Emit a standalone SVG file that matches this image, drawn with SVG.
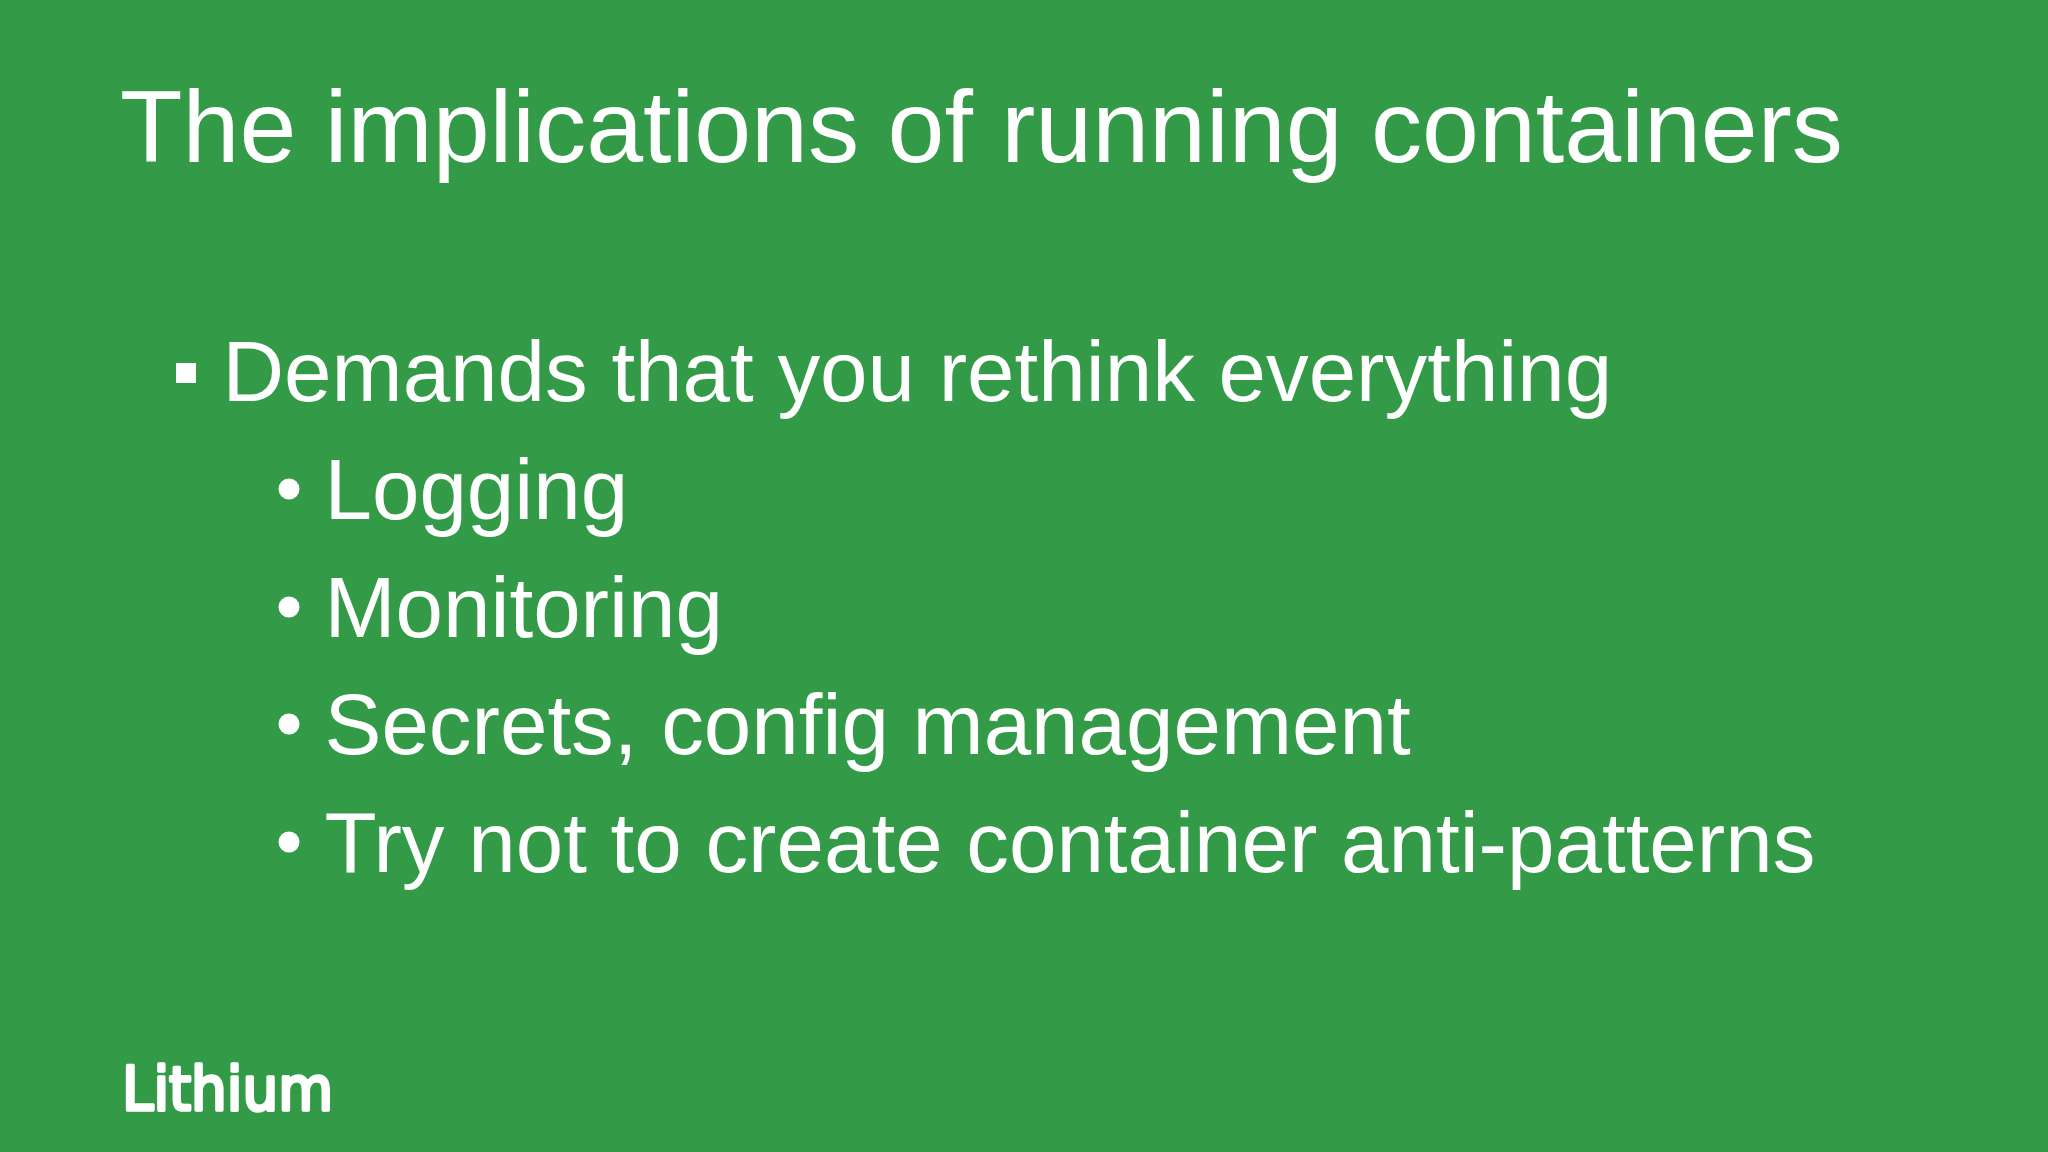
<svg xmlns="http://www.w3.org/2000/svg" width="2048" height="1152" viewBox="0 0 2048 1152">
<style>
text{font-family:"Liberation Sans",Arial,sans-serif;fill:#fff}
.t{font-size:102.3px}
.b{font-size:85.33px}
.logo{font-family:"DejaVu Sans",sans-serif;font-size:60px;stroke:#fff;stroke-width:3.5;stroke-linejoin:round;stroke-linecap:round}
</style>
<rect id="background" width="2048" height="1152" fill="#339b48"/>
<text id="title" class="t" x="120" y="162">The implications of running containers</text>
<g id="list">
<rect x="176" y="363" width="20" height="20" fill="#fff"/>
<text class="b" x="222.500" y="401">Demands that you rethink everything</text>
<circle cx="289" cy="489" r="10.5" fill="#fff"/>
<text class="b" x="324.500" y="519">Logging</text>
<circle cx="289" cy="607" r="10.5" fill="#fff"/>
<text class="b" x="324.500" y="637">Monitoring</text>
<circle cx="289" cy="724" r="10.5" fill="#fff"/>
<text class="b" x="324.500" y="754">Secrets, config management</text>
<circle cx="289" cy="842" r="10.5" fill="#fff"/>
<text class="b" x="324.500" y="872">Try not to create container anti-patterns</text>
</g>
<text id="logo" class="logo" x="122" y="1110" textLength="211" lengthAdjust="spacingAndGlyphs">Lithium</text>
</svg>
